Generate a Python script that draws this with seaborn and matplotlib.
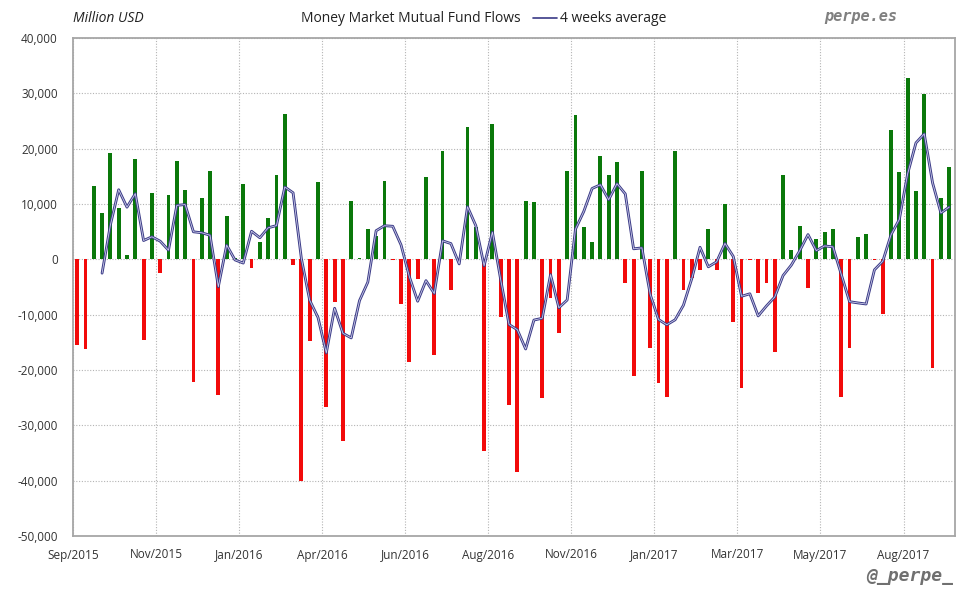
import numpy as np
import pandas as pd
import matplotlib
matplotlib.use("Agg")
import matplotlib.pyplot as plt
from matplotlib.lines import Line2D
from matplotlib.ticker import FuncFormatter
import seaborn as sns

# weekly money market fund flows, million USD
flows = [
    -15500, -16200, 13300, 8400, 19300, 9300, 700, 18200, -14600, 12000,
    -2500, 11700, 17800, 12600, -22200, 11000, 16000, -24600, 7900, 300,
    13700, -1600, 3200, 7500, 15300, 26300, -1000, -40100, -14800, 13900,
    -26700, -7800, -32900, 10600, 300, 5500, 4300, 14200, -100, -8000,
    -18600, -3600, 14800, -17300, 19500, -5600, 100, 24000, 5900, -34700,
    24500, -10500, -26400, -38500, 10600, 10400, -25100, -6900, -13400, 16000,
    26100, 5900, 3200, 18700, 15300, 17500, -4200, -21000, 16000, -16100,
    -22400, -24800, 19600, -5600, -3300, -2000, 5500, -2000, 10000, -11400,
    -23300, -200, -6000, -4200, -16800, 15300, 1600, 6100, -5100, 3700,
    5000, 5400, -24900, -16100, 4100, 4600, -200, -9900, 23300, 15700,
    32800, 12400, 29800, -19700, 11000, 16700,
]
tick_labels = ["Sep/2015", "Nov/2015", "Jan/2016", "Apr/2016", "Jun/2016",
               "Aug/2016", "Nov/2016", "Jan/2017", "Mar/2017", "May/2017",
               "Aug/2017"]
yticks = list(range(-50000, 40001, 10000))

df = pd.DataFrame({"week": np.arange(len(flows)), "flow": flows})
df["sign"] = np.where(df.flow >= 0, "in", "out")
df["avg4"] = df.flow.rolling(4).mean()

sns.set_style("white")
plt.rcParams["font.family"] = ["Open Sans", "DejaVu Sans"]

fig = plt.figure(figsize=(9.8, 6), dpi=100)
ax = fig.add_axes([73 / 980, 1 - 536 / 600, 882 / 980, 498 / 600])

sns.barplot(data=df, x="week", y="flow", hue="sign", dodge=False,
            palette={"in": "#0a780a", "out": "#f20a0a"}, width=0.46,
            saturation=1, legend=False, linewidth=0, ax=ax, zorder=2)
# hollow looking navy line
sns.lineplot(data=df, x="week", y="avg4", color="#3a3a86", lw=2.0, ax=ax, zorder=3)
sns.lineplot(data=df, x="week", y="avg4", color="#ccccea", lw=0.6, ax=ax, zorder=4)

ax.set_xlim(-0.5, 105.7)
ax.set_ylim(-50000, 40000)
ax.set_xticks([-0.5 + 10 * k for k in range(len(tick_labels))])
ax.set_xticklabels(tick_labels)
ax.set_yticks(yticks)
ax.yaxis.set_major_formatter(FuncFormatter(lambda v, p: f"{int(v):,}"))
ax.set_xlabel("")
ax.set_ylabel("")
ax.tick_params(length=0, labelsize=8.5, colors="#333333")
ax.tick_params(axis="y", pad=11)
ax.tick_params(axis="x", pad=9)
ax.grid(True, color="#b4b4b4", lw=0.8, linestyle=(0, (1, 1.5)), zorder=0)
ax.set_axisbelow(True)
for s in ax.spines.values():
    s.set_color("#a6a6a6")
    s.set_linewidth(1.3)

fig.text(73 / 980, 1 - 19 / 600, "Million USD", fontsize=10, style="italic",
         color="#222222", va="center")
fig.text(411 / 980, 1 - 18 / 600, "Money Market Mutual Fund Flows", fontsize=10,
         color="#222222", va="center", ha="center")
fig.add_artist(Line2D([533 / 980, 557 / 980], [1 - 18 / 600] * 2,
                      color="#3a3a86", lw=1.2))
fig.text(560 / 980, 1 - 18 / 600, "4 weeks average", fontsize=10,
         color="#222222", va="center")
fig.text(897 / 980, 1 - 17 / 600, "perpe.es", fontsize=11, color="#808080",
         family="DejaVu Sans Mono", weight="bold", style="italic",
         ha="right", va="center")
fig.text(953 / 980, 1 - 576 / 600, "@_perpe_", fontsize=13, color="#707070",
         family="DejaVu Sans Mono", weight="bold", style="italic",
         ha="right", va="center")

fig.savefig("out.png", dpi=100)
